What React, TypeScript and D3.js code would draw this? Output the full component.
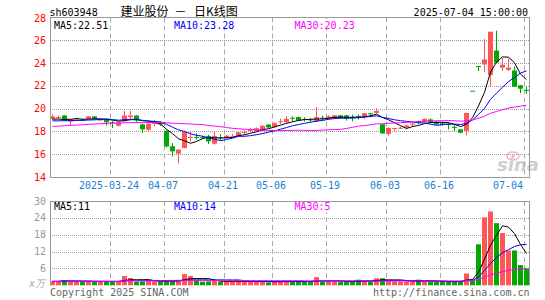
import React from "react";
import * as d3 from "d3";

const dates = [
  "2025-03-10","2025-03-11","2025-03-12","2025-03-13","2025-03-14","2025-03-17","2025-03-18","2025-03-19","2025-03-20","2025-03-21",
  "2025-03-24","2025-03-25","2025-03-26","2025-03-27","2025-03-28","2025-03-31",
  "2025-04-01","2025-04-02","2025-04-03","2025-04-07","2025-04-08","2025-04-09","2025-04-10","2025-04-11","2025-04-14","2025-04-15",
  "2025-04-16","2025-04-17","2025-04-18","2025-04-21","2025-04-22","2025-04-23","2025-04-24","2025-04-25","2025-04-28","2025-04-29","2025-04-30",
  "2025-05-06","2025-05-07","2025-05-08","2025-05-09","2025-05-12","2025-05-13","2025-05-14","2025-05-15","2025-05-16","2025-05-19",
  "2025-05-20","2025-05-21","2025-05-22","2025-05-23","2025-05-26","2025-05-27","2025-05-28","2025-05-29","2025-05-30",
  "2025-06-03","2025-06-04","2025-06-05","2025-06-06","2025-06-09","2025-06-10","2025-06-11","2025-06-12","2025-06-13","2025-06-16",
  "2025-06-17","2025-06-18","2025-06-19","2025-06-20","2025-06-23","2025-06-24","2025-06-25","2025-06-26","2025-06-27","2025-06-30",
  "2025-07-01","2025-07-02","2025-07-03","2025-07-04",
];

const opens = [
  19.11,19.24,19.40,18.86,19.02,19.03,19.11,19.32,19.02,19.02,
  18.80,18.50,18.90,19.25,19.40,18.62,18.15,18.65,18.80,18.05,
  16.70,16.05,16.55,17.45,17.52,17.50,17.57,16.92,17.48,17.42,
  17.53,17.60,17.93,18.08,18.05,18.06,18.60,18.38,18.86,18.82,
  19.20,19.26,19.10,19.05,18.88,19.20,19.11,19.17,19.41,19.41,
  19.26,19.34,19.32,19.60,19.62,18.62,17.78,18.28,18.30,18.32,
  18.60,18.84,18.80,19.05,18.85,18.70,18.65,18.40,18.18,18.05,
  21.58,23.74,23.88,22.95,25.10,23.60,23.40,23.35,22.05,21.65,
];
const highs = [
  19.49,19.40,19.42,19.10,19.15,19.10,19.35,19.35,19.15,19.10,
  18.95,18.85,19.82,19.80,19.42,18.70,18.80,19.00,18.90,18.10,
  16.98,16.45,18.10,18.00,17.85,17.60,17.70,18.00,17.77,17.70,
  17.75,17.95,18.15,18.30,18.35,18.55,18.65,18.80,19.10,19.35,
  19.32,19.30,19.25,19.18,20.14,19.40,19.40,19.45,19.45,19.45,
  19.46,19.50,19.62,19.62,20.05,18.65,18.35,18.32,18.42,18.60,
  18.75,18.95,19.15,19.15,18.90,18.85,18.80,18.60,18.20,19.65,
  21.58,23.74,26.11,26.75,26.85,24.45,24.40,23.70,22.08,21.95,
];
const lows = [
  19.03,19.08,18.95,18.58,18.95,18.92,19.05,19.05,18.95,18.50,
  18.30,18.45,18.85,19.10,18.80,17.86,18.00,18.45,18.50,16.60,
  15.80,15.20,16.50,17.13,17.27,17.35,16.90,16.85,17.18,17.35,
  17.40,17.55,17.70,17.90,18.00,18.00,18.30,18.35,18.65,18.70,
  18.88,18.90,18.88,18.80,18.85,18.95,19.05,19.10,19.10,18.95,
  18.88,19.05,19.10,19.23,19.55,17.82,17.60,18.05,18.20,18.25,
  18.40,18.60,18.75,18.70,18.55,18.50,18.18,18.04,17.85,17.65,
  21.58,23.30,23.20,21.90,24.00,23.30,23.30,21.90,21.35,21.30,
];
const closes = [
  19.32,19.27,18.96,19.07,19.06,18.98,19.32,19.11,19.06,18.80,
  18.72,18.79,19.40,19.40,18.95,18.18,18.65,18.85,18.60,16.68,
  16.25,16.40,17.95,17.52,17.48,17.46,17.13,17.60,17.44,17.62,
  17.57,17.92,17.96,18.11,18.28,18.50,18.35,18.72,18.89,19.10,
  19.15,18.97,19.06,19.02,19.26,19.16,19.32,19.41,19.17,19.11,
  19.23,19.32,19.60,19.60,19.80,17.82,18.30,18.30,18.33,18.52,
  18.68,18.80,19.10,18.80,18.62,18.68,18.62,18.35,17.88,19.62,
  21.58,23.74,24.32,26.75,24.05,23.85,23.60,21.92,21.75,21.60,
];
const volumes = [
  1.4,1.4,1.9,1.4,1.4,1.3,1.4,1.3,1.4,1.3,
  1.3,1.4,3.3,2.6,1.3,1.4,1.6,1.4,1.3,1.6,
  1.5,1.4,4.0,3.3,1.9,1.3,1.4,1.6,1.3,1.4,
  1.4,1.5,1.4,1.3,1.3,1.4,1.0,1.4,1.4,1.6,
  1.3,1.4,1.3,1.3,2.9,1.3,1.4,1.4,1.3,1.3,
  1.3,2.0,1.5,1.3,2.5,2.5,1.9,1.4,1.3,1.4,
  1.3,2.0,1.4,1.3,1.3,1.3,1.3,1.3,1.3,4.2,
  2.0,14.6,24.2,26.3,22.1,18.6,12.4,12.4,7.2,6.0,
];

// MA values at the start of the window (earlier closes are off-chart)
const ma5Head = [19.08, 19.08, 19.06, 19.06];
const ma10Head = [18.93, 18.93, 18.94, 18.95, 18.96, 18.98, 19.0, 19.02, 19.04];
const ma30Head = [
  18.44, 18.46, 18.5, 18.53, 18.56, 18.58, 18.62, 18.65, 18.68, 18.7,
  18.72, 18.74, 18.76, 18.77, 18.78, 18.78, 18.78, 18.78, 18.78, 18.76,
  18.72, 18.7, 18.68, 18.65, 18.62, 18.6, 18.52, 18.47, 18.42,
];

const priceTicks = [14, 16, 18, 20, 22, 24, 26, 28];
const volTicks = [6, 12, 18, 24, 30];
const dateTicks = ["2025-03-24", "2025-04-07", "2025-04-21", "2025-05-06", "2025-05-19", "2025-06-03", "2025-06-16", "2025-07-04"];
const dateTickLabels = ["2025-03-24", "04-07", "04-21", "05-06", "05-19", "06-03", "06-16", "07-04"];

const priceLegend = ["MA5:22.51", "MA10:23.28", "MA30:20.23"];
const volLegend = ["MA5:11", "MA10:14", "MA30:5"];
const maColors = ["#000000", "#0000ff", "#ff00ff"];

const code = "sh603948";
const titleName = "建业股份";
const titleDash = "－";
const titleKind = "日K线图";
const stamp = "2025-07-04 15:00:00";

const RED = "#ff5555";
const GREEN = "#00a800";
const MONO = "'DejaVu Sans Mono', 'Liberation Mono', monospace";
const CJK = "'Noto Sans CJK SC', sans-serif";

function movingAvg(values: number[], n: number, head: number[] = []): number[] {
  return values.map((_, i) => {
    if (i < head.length) return head[i];
    const s = Math.max(0, i - n + 1);
    return d3.mean(values.slice(s, i + 1)) as number;
  });
}

export default function App() {
  const W = 545, H = 300;
  const left = 50, right = 530;
  const x = d3.scaleLinear().domain([0, dates.length]).range([left, right]);
  const step = x(1) - x(0);
  const barW = step - 1;
  const cx = (i: number) => x(i) + barW / 2;
  const y = d3.scaleLinear().domain([14, 28]).range([177, 17.5]);
  const yv = d3.scaleLinear().domain([0, 30]).range([285.3, 201]);

  const pTop = y(28), pBot = y(14);
  const vTop = yv(30), vBot = yv(0);

  const ma5 = movingAvg(closes, 5, ma5Head);
  const ma10 = movingAvg(closes, 10, ma10Head);
  const ma30 = movingAvg(closes, 30, ma30Head);
  const vma5 = movingAvg(volumes, 5);
  const vma10 = movingAvg(volumes, 10);
  const vma30 = movingAvg(volumes, 30);

  const priceLine = d3.line<number>().x((_, i) => cx(i)).y((d) => y(d));
  const volLine = d3.line<number>().x((_, i) => cx(i)).y((d) => yv(d));

  const isUp = (i: number) => closes[i] > opens[i];
  const legendX = [54, 174, 294.5];
  const charW = 6.02;

  return (
    <div style={{ position: "fixed", left: 0, top: 0, width: W, height: H, background: "#fff" }}>
      <svg width={W} height={H} viewBox={`0 0 ${W} ${H}`} style={{ display: "block" }}>
        <rect x={0} y={0} width={W} height={H} fill="#fff" />
        {/* header */}
        <text x={49.5} y={15.5} fontFamily={MONO} fontSize={10} fill="#000">{code}</text>
        <text x={120.5} y={15.5} fontFamily={CJK} fontSize={12} fill="#000">{titleName}</text>
        <text x={174.5} y={15.5} fontFamily={CJK} fontSize={12} fill="#000">{titleDash}</text>
        <text x={194} y={15.5} fontFamily={CJK} fontSize={12} fill="#000">{titleKind}</text>
        <text x={528} y={15.5} fontFamily={MONO} fontSize={10} fill="#000" textAnchor="end">{stamp}</text>

        {/* grids */}
        {priceTicks.filter((t) => t > 14 && t < 28).map((t) => (
          <line key={"pg" + t} x1={left} x2={right - 1} y1={Math.round(y(t)) + 0.5} y2={Math.round(y(t)) + 0.5}
            stroke="#999" strokeDasharray="1,1" />
        ))}
        {volTicks.filter((t) => t < 30).map((t) => (
          <line key={"vg" + t} x1={left} x2={right - 1} y1={Math.round(yv(t)) + 0.5} y2={Math.round(yv(t)) + 0.5}
            stroke="#999" strokeDasharray="1,1" />
        ))}
        {dateTicks.map((d) => {
          const gx = Math.round(x(dates.indexOf(d))) + 0.5;
          return (
            <g key={"dg" + d}>
              <line x1={gx} x2={gx} y1={pTop} y2={pBot} stroke="#aaa" strokeDasharray="5,3" />
              <line x1={gx} x2={gx} y1={vTop} y2={vBot} stroke="#aaa" strokeDasharray="5,3" />
            </g>
          );
        })}

        {/* watermark */}
        <g opacity={0.55}>
          <ellipse cx={513} cy={156} rx={6} ry={4} fill="none" stroke="#f08080" strokeWidth={1.5} />
          <circle cx={513} cy={156} r={1.6} fill="#f08080" />
          <text x={497} y={171} fontFamily="'DejaVu Sans', sans-serif" fontSize={18} fontWeight="bold" fontStyle="italic" fill="#a8a8a8">sina</text>
        </g>

        {/* candles */}
        {dates.map((d, i) => {
          const col = isUp(i) ? RED : GREEN;
          const top = y(Math.max(opens[i], closes[i]));
          const bot = y(Math.min(opens[i], closes[i]));
          const h = Math.max(1, bot - top);
          return (
            <g key={"c" + d}>
              <line x1={cx(i)} x2={cx(i)} y1={y(highs[i])} y2={y(lows[i])} stroke={col} strokeWidth={1} />
              <rect x={x(i)} y={top} width={barW} height={h} fill={col} />
            </g>
          );
        })}

        {/* price MAs */}
        {[ma5, ma10, ma30].map((m, k) => (
          <path key={"pm" + k} d={priceLine(m) || ""} fill="none" stroke={maColors[k]} strokeWidth={1} />
        ))}

        {/* volume bars */}
        {dates.map((d, i) => (
          <rect key={"v" + d} x={x(i)} y={yv(volumes[i])} width={barW} height={vBot - yv(volumes[i])}
            fill={isUp(i) ? RED : GREEN} />
        ))}
        {[vma5, vma10, vma30].map((m, k) => (
          <path key={"vm" + k} d={volLine(m) || ""} fill="none" stroke={maColors[k]} strokeWidth={1} />
        ))}

        {/* frames */}
        <g stroke="#999" fill="none">
          <line x1={left + 0.5} x2={left + 0.5} y1={pTop} y2={pBot} />
          <line x1={right - 0.5} x2={right - 0.5} y1={pTop} y2={pBot} />
          <line x1={left} x2={right} y1={pTop} y2={pTop} />
          <line x1={left} x2={right} y1={pBot + 0.5} y2={pBot + 0.5} />
          <line x1={left + 0.5} x2={left + 0.5} y1={vTop} y2={vBot} />
          <line x1={right - 0.5} x2={right - 0.5} y1={vTop} y2={vBot} />
          <line x1={left} x2={right} y1={vTop + 0.5} y2={vTop + 0.5} />
        </g>

        {/* legends */}
        {priceLegend.map((t, k) => (
          <g key={"pl" + k}>
            <rect x={legendX[k] - 2} y={pTop + 1.5} width={t.length * charW + 4} height={10} fill="#fff" />
            <text x={legendX[k]} y={28.5} fontFamily={MONO} fontSize={10} fill={maColors[k]}>{t}</text>
          </g>
        ))}
        {volLegend.map((t, k) => (
          <g key={"vl" + k}>
            <rect x={legendX[k] - 2} y={vTop + 1.5} width={t.length * charW + 4} height={10} fill="#fff" />
            <text x={legendX[k]} y={210} fontFamily={MONO} fontSize={10} fill={maColors[k]}>{t}</text>
          </g>
        ))}

        {/* axis labels */}
        {priceTicks.map((t) => (
          <text key={"pt" + t} x={46} y={y(t) + (t === 28 ? 4.5 : 3.5)} textAnchor="end" fontFamily={MONO} fontSize={10} fill="#ff0000">{t}</text>
        ))}
        {volTicks.map((t) => (
          <text key={"vt" + t} x={46} y={yv(t) + 3.5} textAnchor="end" fontFamily={MONO} fontSize={10} fill="#999">{t}</text>
        ))}
        <text x={29} y={287} fontFamily={MONO} fontSize={10} fill="#aaa" fontStyle="italic">x万</text>
        {dateTicks.map((d, k) => {
          const gx = x(dates.indexOf(d));
          const last = k === dateTicks.length - 1;
          return (
            <text key={"dl" + d} x={last ? right - 7 : gx - 1} y={189} textAnchor={last ? "end" : "middle"}
              fontFamily={MONO} fontSize={10} fill="#1a7fd4">{dateTickLabels[k]}</text>
          );
        })}

        {/* footer */}
        <text x={50} y={296} fontFamily={MONO} fontSize={10} fill="#666">Copyright 2025 SINA.COM</text>
        <text x={529.5} y={296} textAnchor="end" fontFamily={MONO} fontSize={10} fill="#666">http://finance.sina.com.cn</text>
      </svg>
    </div>
  );
}
